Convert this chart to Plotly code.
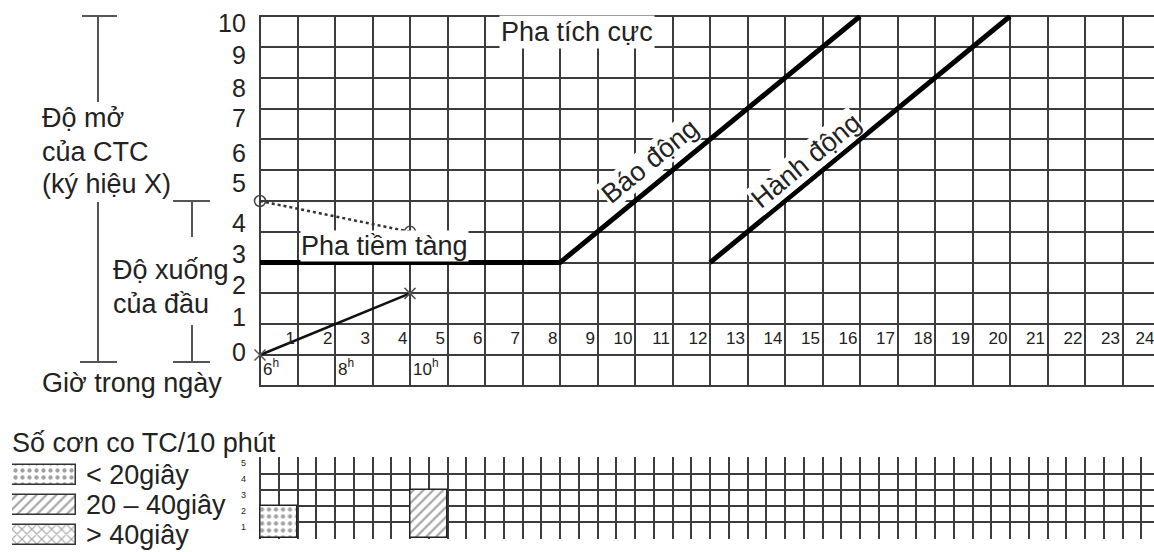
import plotly.graph_objects as go

W, H = 1154, 552

# ---------------- data ----------------
hours = list(range(1, 25))
time_labels = ["6<sup>h</sup>", "8<sup>h</sup>", "10<sup>h</sup>"]
time_label_hour = [0, 2, 4]
ytick_labels = [str(i) for i in range(11)]
ytick_pos = [0.1, 1.23, 2.27, 3.28, 4.29, 5.58, 6.56, 7.69, 8.67, 9.74, 10.78]

latent_alert_x = [0, 8, 16]
latent_alert_y = [3, 3, 11]
action_x = [12, 20]
action_y = [3, 11]
dilation_x = [0, 4]
dilation_y = [5, 4]
descent_x = [0, 4]
descent_y = [0, 2]

contraction_start = [0, 4]
contraction_count = [2, 3]
contraction_pattern = [".", "/"]
contraction_ticks = [1, 2, 3, 4, 5]

legend_labels = ["< 20giây", "20 – 40giây", "> 40giây"]
legend_patterns = [".", "/", "x"]

# ---------------- geometry helpers ----------------
X0, CW = 260.0, 37.5      # pixel of hour 0, pixels per hour
Y0, RH = 355.0, 30.8      # pixel of row 0, pixels per row
XR = [-0.04, (W - X0) / CW]
YR = [-1.05, 11.04]


def pxx(p):
    return p / W


def pxy(p):
    return 1 - p / H


FONT = "Liberation Sans, Arial, sans-serif"
INK = "#222222"
GRID = "#3c3c3c"
HOUR_FS = 17

fig = go.Figure()

# main chart lines
fig.add_trace(go.Scatter(x=latent_alert_x, y=latent_alert_y, mode="lines",
                         line=dict(color="black", width=5), cliponaxis=False,
                         hoverinfo="skip"))
fig.add_trace(go.Scatter(x=action_x, y=action_y, mode="lines",
                         line=dict(color="black", width=5), cliponaxis=False,
                         hoverinfo="skip"))
fig.add_trace(go.Scatter(x=dilation_x, y=dilation_y, mode="lines+markers",
                         line=dict(color="#333", width=2.5, dash="dot"),
                         marker=dict(symbol="circle-open", size=11, color="#444",
                                     line=dict(width=1.5)),
                         cliponaxis=False, hoverinfo="skip"))
fig.add_trace(go.Scatter(x=descent_x, y=descent_y, mode="lines+markers",
                         line=dict(color="#111", width=2.5),
                         marker=dict(symbol="x-thin-open", size=11, color="#555",
                                     line=dict(width=1.5, color="#555")),
                         cliponaxis=False, hoverinfo="skip"))

# hour numbers inside the grid row (right-aligned in each hour cell);
# the last cell is cut by the page edge, so its label is anchored from the left
hour_x, hour_pos = [], []
for h in hours:
    right_edge = h - 0.07
    if right_edge < XR[1] - 0.05:
        hour_x.append(right_edge)
        hour_pos.append("middle left")
    else:
        text_w = 0.556 * HOUR_FS * len(str(h)) / CW
        hour_x.append(right_edge - text_w - 0.08)
        hour_pos.append("middle right")
fig.add_trace(go.Scatter(x=hour_x, y=[0.5] * len(hours),
                         mode="text", text=[str(h) for h in hours],
                         textposition=hour_pos,
                         textfont=dict(family=FONT, size=HOUR_FS, color=INK),
                         cliponaxis=False, hoverinfo="skip"))
# time of day labels
fig.add_trace(go.Scatter(x=[t + 0.08 for t in time_label_hour], y=[-0.5] * 3,
                         mode="text", text=time_labels,
                         textposition="middle right",
                         textfont=dict(family=FONT, size=17, color=INK),
                         cliponaxis=False, hoverinfo="skip"))

# contraction bars (bottom chart)
fig.add_trace(go.Bar(x=[s + 0.5 for s in contraction_start], y=contraction_count,
                     width=1, xaxis="x2", yaxis="y2",
                     marker=dict(color="white", line=dict(color="#222", width=1.5),
                                 pattern=dict(shape=contraction_pattern, fgcolor="#444",
                                              bgcolor="white", size=7, solidity=0.3)),
                     hoverinfo="skip"))

# legend swatches
fig.add_trace(go.Bar(x=[1, 1, 1], y=[0, 1, 2], orientation="h", width=0.65,
                     xaxis="x3", yaxis="y3",
                     marker=dict(color="white", line=dict(color="#333", width=1.5),
                                 pattern=dict(shape=legend_patterns, fgcolor="#444",
                                              bgcolor="white", size=7, solidity=0.3)),
                     hoverinfo="skip"))

main_dom_x = [pxx(X0 + XR[0] * CW), 1.0]
main_dom_y = [pxy(Y0 - YR[0] * RH), pxy(Y0 - YR[1] * RH)]

axis_common = dict(showticklabels=False, ticks="", zeroline=False,
                   showline=False, gridcolor=GRID, gridwidth=1.6, fixedrange=True)

fig.update_layout(
    width=W, height=H, autosize=False,
    margin=dict(l=0, r=0, t=0, b=0),
    paper_bgcolor="white", plot_bgcolor="white",
    showlegend=False,
    bargap=0,
    xaxis=dict(domain=main_dom_x, range=XR, tick0=0, dtick=1, showgrid=True,
               **axis_common),
    yaxis=dict(domain=main_dom_y, range=YR, tick0=0, dtick=1, showgrid=True,
               **axis_common),
    xaxis2=dict(domain=main_dom_x, range=XR, tick0=0, dtick=0.5, showgrid=True,
                anchor="y2", **axis_common),
    yaxis2=dict(domain=[pxy(539), pxy(457)], range=[-0.05, 5.05], tick0=0, dtick=1,
                showgrid=True, anchor="x2", **axis_common),
    xaxis3=dict(domain=[pxx(12), pxx(76)], range=[0, 1], visible=False,
                anchor="y3", fixedrange=True),
    yaxis3=dict(domain=[pxy(550), pxy(460)], range=[2.5, -0.5], visible=False,
                anchor="x3", fixedrange=True),
)

ann = []


def txt(x, y, s, size=27, xanchor="left", xref="paper", yref="paper", **kw):
    ann.append(dict(x=x, y=y, xref=xref, yref=yref, text=s, showarrow=False,
                    xanchor=xanchor, yanchor="middle",
                    font=dict(family=FONT, size=size, color=INK), **kw))


# y tick labels of main chart
for lab, pos in zip(ytick_labels, ytick_pos):
    txt(pxx(248), pos, lab, size=25, xanchor="right", yref="y")

# contraction axis tick labels
for t in contraction_ticks:
    txt(pxx(248), t - 0.5 + 0.2, str(t), size=9, xanchor="right", yref="y2")

# left side labels
txt(pxx(40), pxy(118), "Độ mở")
txt(pxx(40), pxy(152), "của CTC")
txt(pxx(40), pxy(184), "(ký hiệu X)")
txt(pxx(111), pxy(270), "Độ xuống")
txt(pxx(111), pxy(304), "của đầu")
txt(pxx(40), pxy(383), "Giờ trong ngày")
txt(pxx(10), pxy(443), "Số cơn co TC/10 phút")
for i, lab in enumerate(legend_labels):
    txt(pxx(84), i, lab, yref="y3")

# labels on chart
txt(8.45, 10.5, "Pha tích cực", xanchor="center", xref="x", yref="y",
    bgcolor="white", borderpad=1)
txt(3.33, 3.55, "Pha tiềm tàng", xanchor="center", xref="x", yref="y",
    bgcolor="white", borderpad=0)
txt(10.4, 6.3, "Báo động", xanchor="center", xref="x", yref="y",
    bgcolor="white", borderpad=0, textangle=-39.4)
txt(14.55, 6.3, "Hành động", xanchor="center", xref="x", yref="y",
    bgcolor="white", borderpad=0, textangle=-39.4)

fig.update_layout(annotations=ann)

# I-bar brackets on the left
LC = "#555"
segs = [
    (82, 16, 117, 16), (98, 16, 98, 102),
    (98, 202, 98, 362), (80, 362, 117, 362),
    (173, 201, 210, 201), (192, 201, 192, 237),
    (192, 325, 192, 362), (173, 362, 210, 362),
]
shapes = []
for x0, y0, x1, y1 in segs:
    shapes.append(dict(type="line", xref="paper", yref="paper",
                       x0=pxx(x0), y0=pxy(y0), x1=pxx(x1), y1=pxy(y1),
                       line=dict(color=LC, width=2)))
fig.update_layout(shapes=shapes)

fig.write_html("out.html", config={"displayModeBar": False},
               post_script="document.body.style.margin='0';"
                           "document.body.style.overflow='hidden';")
